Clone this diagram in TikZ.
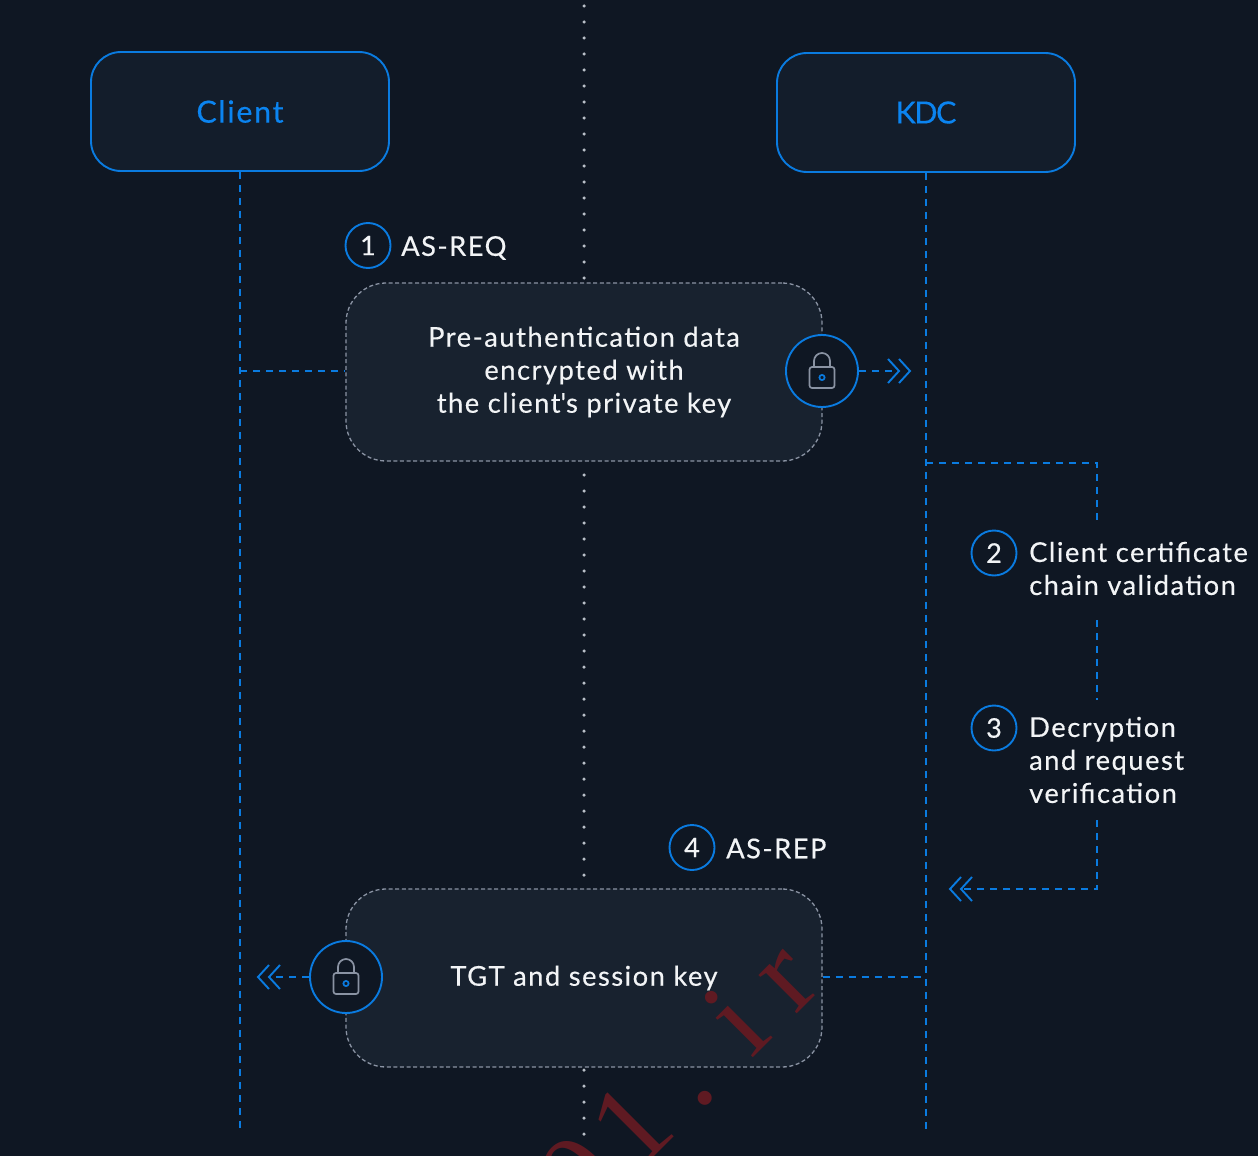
\documentclass[tikz,border=0pt]{standalone}
\usepackage{fontspec}
\setmainfont[LetterSpace=5.5,FakeBold=0.35]{Lato}
\newfontfamily\aposfont[LetterSpace=5.5,FakeBold=0.35]{Lato}
\newfontfamily\wmfont{Liberation Serif}
\definecolor{bgc}{HTML}{0F1723}
\definecolor{headfill}{HTML}{131D2B}
\definecolor{boxfill}{HTML}{18222F}
\definecolor{bluec}{HTML}{0A7BE0}
\definecolor{bluet}{HTML}{0B84F0}
\definecolor{greyc}{HTML}{8A93A3}
\definecolor{dotc}{HTML}{B9C0C8}
\definecolor{textc}{HTML}{F2F4F6}
\definecolor{wmc}{HTML}{5F1A22}
\newcommand{\txt}[1]{\fontsize{#1}{33}\selectfont}
\usetikzlibrary{calc}
\tikzset{
  x=1pt,y=-1pt,
  headbox/.style={draw=bluec,line width=1.9pt,fill=headfill,rounded corners=30pt,minimum width=298pt,minimum height=119pt,inner sep=0pt,text=bluet,font=\txt{30.5}},
  msgbox/.style={draw=greyc,line width=1.3pt,dash pattern=on 4pt off 2.6pt,fill=boxfill,rounded corners=40pt,minimum width=476pt,minimum height=178pt,inner sep=0pt,text=textc,font=\txt{27.3},align=center},
  numc/.style={circle,draw=bluec,line width=1.9pt,minimum size=45pt,inner sep=0pt,text=textc,font=\txt{27}},
  lockc/.style={circle,draw=bluec,line width=1.9pt,fill=bgc,minimum size=72pt,inner sep=0pt},
  lbl/.style={anchor=west,inner sep=0pt,text=textc,font=\txt{27.3},align=left},
  flow/.style={draw=bluec,line width=1.9pt,dash pattern=on 7pt off 6pt},
  chev/.style={draw=bluec,line width=1.9pt},
  dots/.style={draw=dotc,line width=3.5pt,line cap=round,dash pattern=on 0pt off 16pt},
}
\newcommand{\lockicon}[1]{%
  \draw[greyc,line width=1.7pt,rounded corners=2.5pt] ($(#1)+(-12.5,-4)$) rectangle ($(#1)+(12.5,17)$);
  \draw[greyc,line width=1.7pt] ($(#1)+(-8,-4)$) -- ($(#1)+(-8,-10)$) arc[start angle=180,end angle=0,x radius=8,y radius=-8] -- ($(#1)+(8,-4)$);
  \draw[bluec,line width=1.7pt] ($(#1)+(0,6.5)$) circle[radius=2.6];
}
\newcommand{\chevR}[1]{%
  \draw[chev] ($(#1)+(-22,-12)$) -- ($(#1)+(-11,0)$) -- ($(#1)+(-22,12)$);
  \draw[chev] ($(#1)+(-11,-12)$) -- ($(#1)+(0,0)$) -- ($(#1)+(-11,12)$);
}
\newcommand{\chevL}[1]{%
  \draw[chev] ($(#1)+(22,-12)$) -- ($(#1)+(11,0)$) -- ($(#1)+(22,12)$);
  \draw[chev] ($(#1)+(11,-12)$) -- ($(#1)+(0,0)$) -- ($(#1)+(11,12)$);
}
\begin{document}
\begin{tikzpicture}
\useasboundingbox (0,0) rectangle (1258,1156);
\clip (0,0) rectangle (1258,1156);
\fill[bgc] (0,0) rectangle (1258,1156);
% free ends
\coordinate (axisTop) at (584,6);
\coordinate (axisMid) at (584,475);
\coordinate (axisLow) at (584,1070);
\coordinate (axisBottom) at (584,1156);
\coordinate (clientEnd) at (240,1130);
\coordinate (kdcEnd) at (926,1130);
\coordinate (hookStart) at (926,463);
\coordinate (hookCorner) at (1097,463);
\coordinate (hookA) at (1097,525);
\coordinate (hookB) at (1097,620);
\coordinate (hookC) at (1097,700);
\coordinate (hookD) at (1097,820);
\coordinate (hookE) at (1097,889);
\coordinate (hookTip) at (950,889);
\coordinate (reqTip) at (910,371);
\coordinate (repTip) at (258,977);
% nodes
\node[headbox] (client) at (240,111.5) {Client};
\node[headbox] (kdc) at (926,112.5) {K\kern-1.5pt D\kern-1.5pt C};
\draw[flow] (client.south) -- (clientEnd);
\draw[flow] (kdc.south) -- (kdcEnd);
\node[msgbox] (req) at (584,372) {Pre-authentic{}ation data\\encrypted with\\the client{\aposfont'}s private key};
\node[msgbox] (rep) at (584,978) {TGT and session key};
% centre axis
\draw[dots] (axisTop) -- (req.north);
\draw[dots] (axisMid) -- (rep.north);
\draw[dots] (axisLow) -- (axisBottom);
\node[lockc] (lockA) at (822,371) {};
\node[lockc] (lockB) at (346,977) {};
\lockicon{lockA}
\lockicon{lockB}
\draw[flow] (lockA -| client.south) -- (lockA -| req.west);
\draw[flow] (lockA.east) -- ($(reqTip)+(-11,0)$);
\chevR{reqTip}
\draw[flow] (lockB.west) -- ($(repTip)+(11,0)$);
\chevL{repTip}
\draw[flow] (lockB -| rep.east) -- (lockB -| kdc.south);
\draw[flow] (hookStart) -- (hookCorner) -- (hookA);
\draw[flow] (hookB) -- (hookC);
\draw[flow] (hookD) -- (hookE) -- ($(hookTip)+(11,0)$);
\chevL{hookTip}
\node[numc] (n1) at (368,245.5) {1};
\node[numc] (n2) at (994,553) {2};
\node[numc] (n3) at (994,728) {3};
\node[numc] (n4) at (692,847.5) {4};
\node[lbl] (l1) at (401,248) {AS-REQ};
\node[lbl] (l4) at (726,848.5) {AS-REP};
\node[lbl] (l2) at (1029,568.5) {Client certificate\\chain validation};
\node[lbl] (l3) at (1029,760) {Decryption\\and request\\verification};
% stray print across the lower right
\node[rotate=45,anchor=base west,inner sep=0pt,text=wmc] (mark) at (586.2,1224.8) {\wmfont\fontsize{118}{118}\selectfont 0\kern13pt 1\kern28pt .\kern45pt i\kern30pt r};
\end{tikzpicture}
\end{document}
